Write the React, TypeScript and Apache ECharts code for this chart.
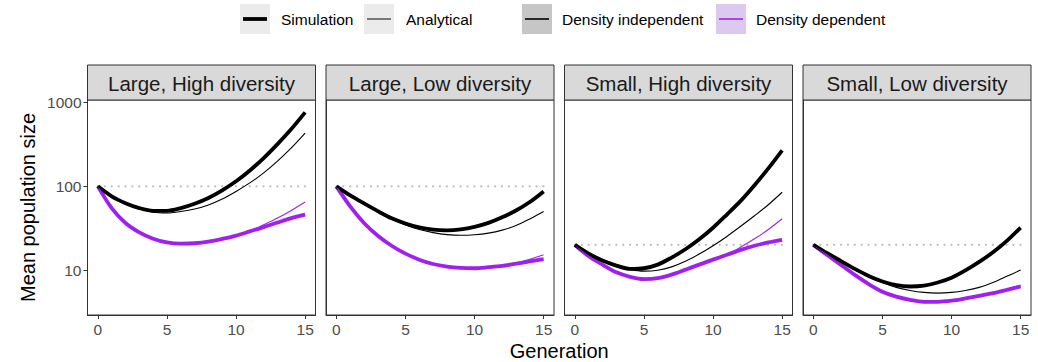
import React, { useEffect, useRef } from "react";
import * as echarts from "echarts";

// ---------- data ----------
const generations = [0, 1, 2, 3, 4, 5, 6, 7, 8, 9, 10, 11, 12, 13, 14, 15];
const panelTitles = [
  "Large, High diversity",
  "Large, Low diversity",
  "Small, High diversity",
  "Small, Low diversity",
];
const refLevels = [100, 100, 20, 20];
const xTicks = [0, 5, 10, 15];
const yTicks = [10, 100, 1000];
const typeLabels = ["Simulation", "Analytical"];
const densityLabels = ["Density independent", "Density dependent"];

// Large, High diversity
const simDI_LH = [100, 76, 63, 55, 51, 51, 55, 62, 72.6, 89.6, 115, 155, 218, 320, 484, 766];
const anaDI_LH = [100, 76, 63, 54.6, 49, 48, 50, 53.6, 60, 70.6, 87, 110, 145, 200, 288, 433];
const simDD_LH = [100, 55, 36.5, 28.2, 23.7, 21.4, 20.7, 20.9, 21.8, 23.5, 25.8, 29, 32.6, 37, 41.8, 46];
const anaDD_LH = [100, 55, 36.5, 28.2, 23.7, 21.4, 20.7, 20.9, 21.8, 23.5, 25.8, 29, 34.8, 41.8, 51.6, 65];
// Large, Low diversity
const simDI_LL = [100, 78, 62.5, 50.5, 41.5, 36, 32.3, 30.4, 29.8, 30.6, 32.8, 36.6, 42.7, 51.5, 65, 87];
const anaDI_LL = [100, 78, 62.5, 50.5, 41, 34.6, 30.5, 28, 26.5, 26, 26.4, 27.6, 30, 34, 40.8, 50];
const simDD_LL = [100, 57.7, 36.5, 25.7, 19.5, 15.7, 13.3, 11.8, 11, 10.6, 10.5, 10.8, 11.2, 11.9, 12.7, 13.5];
const anaDD_LL = [100, 57.7, 36.5, 25.7, 19.5, 15.7, 13.3, 11.8, 11, 10.6, 10.5, 10.8, 11.2, 12.1, 13.4, 15.2];
// Small, High diversity
const simDI_SH = [20, 15.7, 13.0, 11.3, 10.3, 10.5, 11.6, 14.1, 17.7, 23.3, 32, 46, 67, 103, 164, 270];
const anaDI_SH = [20, 15.7, 12.8, 11.0, 10.1, 9.7, 9.95, 10.9, 12.7, 15.5, 19.5, 25.2, 33.3, 44.5, 60.3, 85];
const simDD_SH = [20, 14.6, 11.6, 9.4, 8.3, 7.8, 8, 8.8, 10.1, 11.6, 13.3, 15.2, 17.4, 19.5, 21.4, 23];
const anaDD_SH = [20, 14.6, 11.6, 9.4, 8.3, 7.8, 8, 8.8, 10.1, 11.6, 13.3, 15.3, 18.8, 23.6, 30.5, 41];
// Small, Low diversity
const simDI_SL = [20, 15.9, 12.8, 10.3, 8.5, 7.3, 6.6, 6.35, 6.5, 7.1, 8.1, 9.9, 12.5, 16.3, 22.3, 32.2];
const anaDI_SL = [20, 15.9, 12.7, 10.2, 8.4, 7.1, 6.2, 5.7, 5.4, 5.3, 5.4, 5.7, 6.2, 7.1, 8.4, 10];
const simDD_SL = [20, 15.1, 11.5, 8.75, 6.8, 5.5, 4.8, 4.4, 4.17, 4.17, 4.3, 4.57, 4.9, 5.3, 5.8, 6.35];
const anaDD_SL = [20, 15.1, 11.5, 8.75, 6.8, 5.5, 4.8, 4.4, 4.17, 4.17, 4.3, 4.57, 4.9, 5.35, 5.9, 6.6];

const simDI = [simDI_LH, simDI_LL, simDI_SH, simDI_SL];
const anaDI = [anaDI_LH, anaDI_LL, anaDI_SH, anaDI_SL];
const simDD = [simDD_LH, simDD_LL, simDD_SH, simDD_SL];
const anaDD = [anaDD_LH, anaDD_LL, anaDD_SH, anaDD_SL];

// ---------- layout / style ----------
const FONT = "'Liberation Sans', Arial, Helvetica, sans-serif";
const BLACK = "#000000";
const PURPLE = "#A020F0";
const panelLefts = [87.5, 326, 564.5, 803];
const panelWidth = 228;
const panelTop = 100;
const panelHeight = 215;
const stripTop = 65;
const THICK = 3.8;
const THIN = 1.1;

const pair = (vals: number[]) => generations.map((g, i) => [g, vals[i]]);

export default function App() {
  const ref = useRef<HTMLDivElement>(null);

  useEffect(() => {
    if (!ref.current) return;
    const chart = echarts.init(ref.current, undefined, { renderer: "svg" });

    const grids = panelLefts.map((left) => ({
      left,
      top: panelTop,
      width: panelWidth,
      height: panelHeight,
      show: true,
      borderColor: "#333333",
      borderWidth: 1,
      backgroundColor: "#ffffff",
      containLabel: false,
    }));

    const xAxes = panelLefts.map((_, i) => ({
      type: "value",
      gridIndex: i,
      min: -0.75,
      max: 15.75,
      axisLine: { show: true, onZero: false, lineStyle: { color: "#333333", width: 1 } },
      axisTick: {
        show: true,
        length: 4,
        customValues: xTicks,
        lineStyle: { color: "#333333", width: 1 },
      },
      axisLabel: {
        customValues: xTicks,
        color: "#4d4d4d",
        fontSize: 15.5,
        fontFamily: FONT,
        margin: 6,
      },
      splitLine: { show: false },
    }));

    const yAxes = panelLefts.map((_, i) => ({
      type: "log",
      logBase: 10,
      gridIndex: i,
      min: 2.9,
      max: 1077,
      axisLine: { show: true, onZero: false, lineStyle: { color: "#333333", width: 1 } },
      axisTick: {
        show: i === 0,
        length: 4,
        customValues: yTicks,
        lineStyle: { color: "#333333", width: 1 },
      },
      axisLabel: {
        show: i === 0,
        customValues: yTicks,
        formatter: (v: number) => String(Math.round(v)),
        color: "#4d4d4d",
        fontSize: 15.5,
        fontFamily: FONT,
        margin: 6,
      },
      splitLine: { show: false },
      minorSplitLine: { show: false },
    }));

    const series: any[] = [];
    panelLefts.forEach((_, i) => {
      const common = {
        type: "line",
        xAxisIndex: i,
        yAxisIndex: i,
        symbol: "none",
        smooth: 0.3,
        silent: true,
      };
      series.push({
        ...common,
        smooth: false,
        data: [
          [generations[0], refLevels[i]],
          [generations[generations.length - 1], refLevels[i]],
        ],
        lineStyle: { color: "#bdbdbd", width: 2.2, type: [0.1, 6.8], cap: "round" },
      });
      series.push({ ...common, data: pair(simDD[i]), lineStyle: { color: PURPLE, width: THICK } });
      series.push({ ...common, data: pair(simDI[i]), lineStyle: { color: BLACK, width: THICK } });
      series.push({ ...common, data: pair(anaDD[i]), lineStyle: { color: PURPLE, width: THIN } });
      series.push({ ...common, data: pair(anaDI[i]), lineStyle: { color: BLACK, width: THIN } });
    });

    const graphics: any[] = [];
    // strips
    panelLefts.forEach((left, i) => {
      graphics.push({
        type: "rect",
        shape: { x: left, y: stripTop, width: panelWidth, height: panelTop - stripTop },
        style: { fill: "#d9d9d9", stroke: "#333333", lineWidth: 1 },
        silent: true,
      });
      graphics.push({
        type: "text",
        x: left + panelWidth / 2,
        y: (stripTop + panelTop) / 2 + 0.5,
        style: {
          text: panelTitles[i],
          fontSize: 20.5,
          fontFamily: FONT,
          fill: "#1a1a1a",
          textAlign: "center",
          textVerticalAlign: "middle",
        },
        silent: true,
      });
    });
    // axis titles
    graphics.push({
      type: "text",
      x: 28,
      y: panelTop + panelHeight / 2,
      rotation: Math.PI / 2,
      style: {
        text: "Mean population size",
        fontSize: 20,
        fontFamily: FONT,
        fill: "#000000",
        textAlign: "center",
        textVerticalAlign: "middle",
      },
      silent: true,
    });
    graphics.push({
      type: "text",
      x: (panelLefts[0] + panelLefts[3] + panelWidth) / 2,
      y: 351,
      style: {
        text: "Generation",
        fontSize: 20,
        fontFamily: FONT,
        fill: "#000000",
        textAlign: "center",
        textVerticalAlign: "middle",
      },
      silent: true,
    });
    // legend
    const keys = [
      { x: 240, label: typeLabels[0], fill: "#ebebeb", color: BLACK, w: THICK, tx: 281 },
      { x: 364, label: typeLabels[1], fill: "#ebebeb", color: "#1a1a1a", w: THIN, tx: 406 },
      { x: 522, label: densityLabels[0], fill: "#c6c6c6", color: BLACK, w: 1.6, tx: 562 },
      { x: 716, label: densityLabels[1], fill: "#dcc9f0", color: PURPLE, w: 1.6, tx: 756 },
    ];
    keys.forEach((k) => {
      graphics.push({
        type: "rect",
        shape: { x: k.x, y: 4, width: 30, height: 30 },
        style: { fill: k.fill },
        silent: true,
      });
      graphics.push({
        type: "line",
        shape: { x1: k.x + 3, y1: 19, x2: k.x + 27, y2: 19 },
        style: { stroke: k.color, lineWidth: k.w },
        silent: true,
      });
      graphics.push({
        type: "text",
        x: k.tx,
        y: 19.5,
        style: {
          text: k.label,
          fontSize: 15.5,
          fontFamily: FONT,
          fill: "#000000",
          textAlign: "left",
          textVerticalAlign: "middle",
        },
        silent: true,
      });
    });

    chart.setOption({
      animation: false,
      backgroundColor: "#ffffff",
      grid: grids,
      xAxis: xAxes,
      yAxis: yAxes,
      series,
      graphic: graphics,
    });

    return () => chart.dispose();
  }, []);

  return (
    <div
      ref={ref}
      style={{ position: "absolute", left: 0, top: 0, width: 1038, height: 362 }}
    />
  );
}
